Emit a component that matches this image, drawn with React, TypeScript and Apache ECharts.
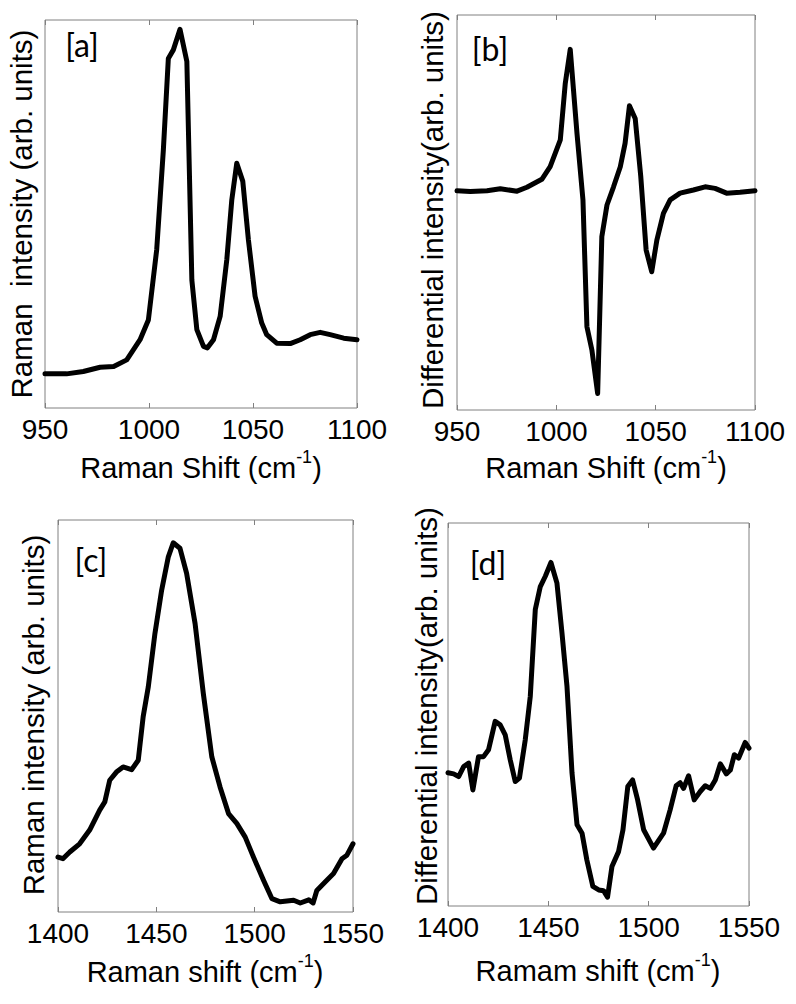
import React, { useEffect, useRef } from "react";
import * as echarts from "echarts";

// Panel [a]: Raman spectrum 950-1100 cm-1
const shiftA = [950, 960.4, 968.4, 976.5, 983, 989.3, 995.7, 999.7, 1003.7, 1006.9, 1009.3, 1011.7, 1014.9, 1018.2, 1020.6, 1023, 1026.2, 1028.1, 1031, 1034.2, 1037.4, 1039.8, 1042.2, 1045.1, 1047.8, 1051, 1054.2, 1056.6, 1061.4, 1067.9, 1072.7, 1077.5, 1082.3, 1087.1, 1093.6, 1100];
const intensityA = [8.8, 8.8, 9.4, 10.5, 10.7, 12.4, 17.6, 22.7, 40.8, 66.5, 90.1, 92.3, 97.6, 89.3, 33.0, 20.2, 15.9, 15.5, 17.6, 23.6, 38.2, 53.6, 63.1, 58.4, 43.3, 28.8, 21.9, 18.9, 16.7, 16.6, 17.6, 18.9, 19.5, 18.9, 18.0, 17.6];

// Panel [b]: differential spectrum 950-1100 cm-1
const shiftB = [950, 956.7, 965.1, 971.8, 980.2, 985.2, 992.7, 996.9, 1002, 1004.5, 1007, 1010.4, 1013.4, 1015.4, 1017.9, 1020.8, 1022.9, 1025.5, 1028.8, 1032.2, 1034.6, 1036.8, 1039.7, 1042.5, 1045.2, 1048, 1050.6, 1053.9, 1057.3, 1062.3, 1069, 1074.9, 1079.9, 1085.7, 1092.5, 1100];
const diffB = [55.5, 55.3, 55.5, 56.0, 55.4, 56.4, 58.4, 61.6, 68.4, 82.7, 91.3, 70.0, 53.2, 21.1, 15.2, 4.2, 43.9, 51.9, 56.5, 61.6, 67.5, 77.0, 73.8, 59.1, 40.5, 35.0, 43.0, 49.8, 53.2, 54.9, 55.7, 56.5, 56.1, 54.9, 55.1, 55.5];

// Panel [c]: Raman spectrum 1400-1550 cm-1
const shiftC = [1400, 1402.5, 1406, 1411, 1416.1, 1421.2, 1423.8, 1426.3, 1429.7, 1433.1, 1437.4, 1440.8, 1443.3, 1445.9, 1449.3, 1452.7, 1456.1, 1458.6, 1462, 1465.4, 1469.7, 1473.9, 1478.2, 1482.4, 1486.7, 1490.9, 1495.2, 1499.4, 1504.5, 1508.8, 1513, 1519.8, 1523.2, 1527.5, 1529.7, 1531.6, 1536.7, 1540.1, 1544.4, 1546.9, 1550];
const intensityC = [14.0, 13.6, 15.3, 17.4, 20.9, 26.0, 28.1, 33.6, 35.7, 37.0, 36.3, 38.7, 49.8, 57.4, 71.1, 82.1, 90.6, 94.2, 92.8, 86.4, 73.6, 55.7, 39.6, 31.9, 25.1, 22.6, 19.1, 14.0, 8.1, 3.4, 2.6, 3.0, 2.3, 3.1, 2.3, 5.5, 8.1, 9.8, 13.6, 14.5, 17.4];

// Panel [d]: differential spectrum 1400-1550 cm-1
const shiftD = [1400, 1402.8, 1405.3, 1407.8, 1410.3, 1412.4, 1415.2, 1417.7, 1420.2, 1423.5, 1426, 1428.5, 1431, 1433.5, 1435.6, 1438.5, 1441, 1443.5, 1446, 1448.5, 1451.3, 1454.3, 1456.8, 1459.3, 1461.8, 1464.3, 1466.8, 1469.2, 1472.2, 1475.1, 1477.5, 1479.5, 1481.7, 1485, 1487.2, 1489.6, 1492, 1494.5, 1497.5, 1502.4, 1507.4, 1510.7, 1513.7, 1515.7, 1517.4, 1519.9, 1522.7, 1525.7, 1528.2, 1530.7, 1533.2, 1535.7, 1538.7, 1540.7, 1542.7, 1544.8, 1548.1, 1550];
const diffD = [34.8, 34.5, 33.8, 36.4, 37.3, 30.3, 39.0, 39.0, 40.8, 48.2, 47.3, 44.7, 38.2, 32.5, 33.4, 43.4, 54.7, 77.4, 83.4, 86.1, 89.7, 84.3, 71.3, 57.3, 34.7, 21.2, 19.0, 12.0, 5.1, 4.2, 4.0, 2.3, 10.3, 14.2, 19.9, 31.2, 32.9, 27.7, 19.9, 15.1, 19.0, 25.1, 31.4, 32.2, 30.7, 34.0, 27.7, 29.9, 31.4, 30.7, 32.9, 37.1, 34.5, 35.5, 39.5, 38.6, 42.7, 41.2];

const xRanges = [
  [950, 1100],
  [950, 1100],
  [1400, 1550],
  [1400, 1550],
];
const panelLetters = ["[a]", "[b]", "[c]", "[d]"];
const xNames = ["Raman Shift", "Raman Shift", "Raman shift", "Ramam shift"];
const yNames = [
  "Raman  intensity (arb. units)",
  "Differential intensity(arb. units)",
  "Raman intensity (arb. units)",
  "Differential intensity(arb. units)",
];

export default function App() {
  const ref = useRef<HTMLDivElement>(null);
  useEffect(() => {
    const chart = echarts.init(ref.current!, null, { renderer: "svg" });
    const grids = [
      { left: 45, top: 20, width: 312, height: 388 },
      { left: 457, top: 15, width: 298, height: 395 },
      { left: 58, top: 520, width: 295, height: 392 },
      { left: 448, top: 523, width: 301, height: 383 },
    ];
    const series = [
      [shiftA, intensityA],
      [shiftB, diffB],
      [shiftC, intensityC],
      [shiftD, diffD],
    ];
    const tickFont = "Liberation Sans";
    const boxColor = "#808080";

    const xAxes: any[] = [];
    const yAxes: any[] = [];
    grids.forEach((g, i) => {
      xAxes.push({
        type: "value",
        gridIndex: i,
        min: xRanges[i][0],
        max: xRanges[i][1],
        interval: 50,
        position: "bottom",
        axisLine: { show: false },
        axisTick: { show: true, inside: true, length: 5, lineStyle: { color: boxColor, width: 1 } },
        axisLabel: {
          show: true,
          margin: 7,
          fontSize: 28,
          color: "#000",
          fontFamily: tickFont,
          formatter: (v: number) => String(v),
        },
        splitLine: { show: false },
      });
      xAxes.push({
        type: "value",
        gridIndex: i,
        min: xRanges[i][0],
        max: xRanges[i][1],
        interval: 50,
        position: "top",
        axisLine: { show: false },
        axisTick: { show: true, inside: true, length: 5, lineStyle: { color: boxColor, width: 1 } },
        axisLabel: { show: false },
        splitLine: { show: false },
      });
      yAxes.push({
        type: "value",
        gridIndex: i,
        min: 0,
        max: 100,
        axisLine: { show: false },
        axisTick: { show: false },
        axisLabel: { show: false },
        splitLine: { show: false },
      });
    });

    const xNamePos = [
      [201, 468],
      [606, 468],
      [205, 972],
      [598, 971],
    ];
    const yNamePos = [
      [21, 214],
      [432, 210],
      [33, 715],
      [426, 706],
    ];
    const letterPos = [
      [82, 44],
      [490, 48],
      [91, 559],
      [488, 562],
    ];

    const graphics: any[] = [];
    grids.forEach((_, i) => {
      graphics.push({
        type: "text",
        x: xNamePos[i][0],
        y: xNamePos[i][1],
        style: {
          text: `{n|${xNames[i]} (cm}{s|-1}{n|)}`,
          align: "center",
          verticalAlign: "middle",
          fill: "#000",
          rich: {
            n: { fontSize: 29, fontFamily: tickFont, lineHeight: 40, verticalAlign: "middle", fill: "#000" },
            s: { fontSize: 18, fontFamily: tickFont, lineHeight: 18, verticalAlign: "top", fill: "#000" },
          },
        },
      });
      graphics.push({
        type: "text",
        x: yNamePos[i][0],
        y: yNamePos[i][1],
        rotation: Math.PI / 2,
        style: {
          text: yNames[i],
          align: "center",
          verticalAlign: "middle",
          fontSize: 29.5,
          fontFamily: tickFont,
          fill: "#000",
        },
      });
      graphics.push({
        type: "text",
        x: letterPos[i][0],
        y: letterPos[i][1],
        style: {
          text: panelLetters[i],
          align: "center",
          verticalAlign: "middle",
          fontSize: 32,
          fontFamily: "Lato",
          fill: "#000",
        },
      });
    });

    chart.setOption({
      animation: false,
      backgroundColor: "#fff",
      grid: grids.map((g) => ({ ...g, show: true, borderColor: boxColor, borderWidth: 1, backgroundColor: "transparent" })),
      xAxis: xAxes,
      yAxis: yAxes,
      series: series.map(([xs, ys], i) => ({
        type: "line",
        xAxisIndex: 2 * i,
        yAxisIndex: i,
        data: xs.map((x, k) => [x, ys[k]]),
        showSymbol: false,
        symbol: "none",
        lineStyle: { color: "#000", width: 5, join: "round", cap: "round" },
        clip: true,
      })),
      graphic: graphics,
    });
    return () => chart.dispose();
  }, []);
  return (
    <div
      ref={ref}
      style={{ position: "absolute", left: 0, top: 0, width: 796, height: 1004, background: "#fff" }}
    />
  );
}
